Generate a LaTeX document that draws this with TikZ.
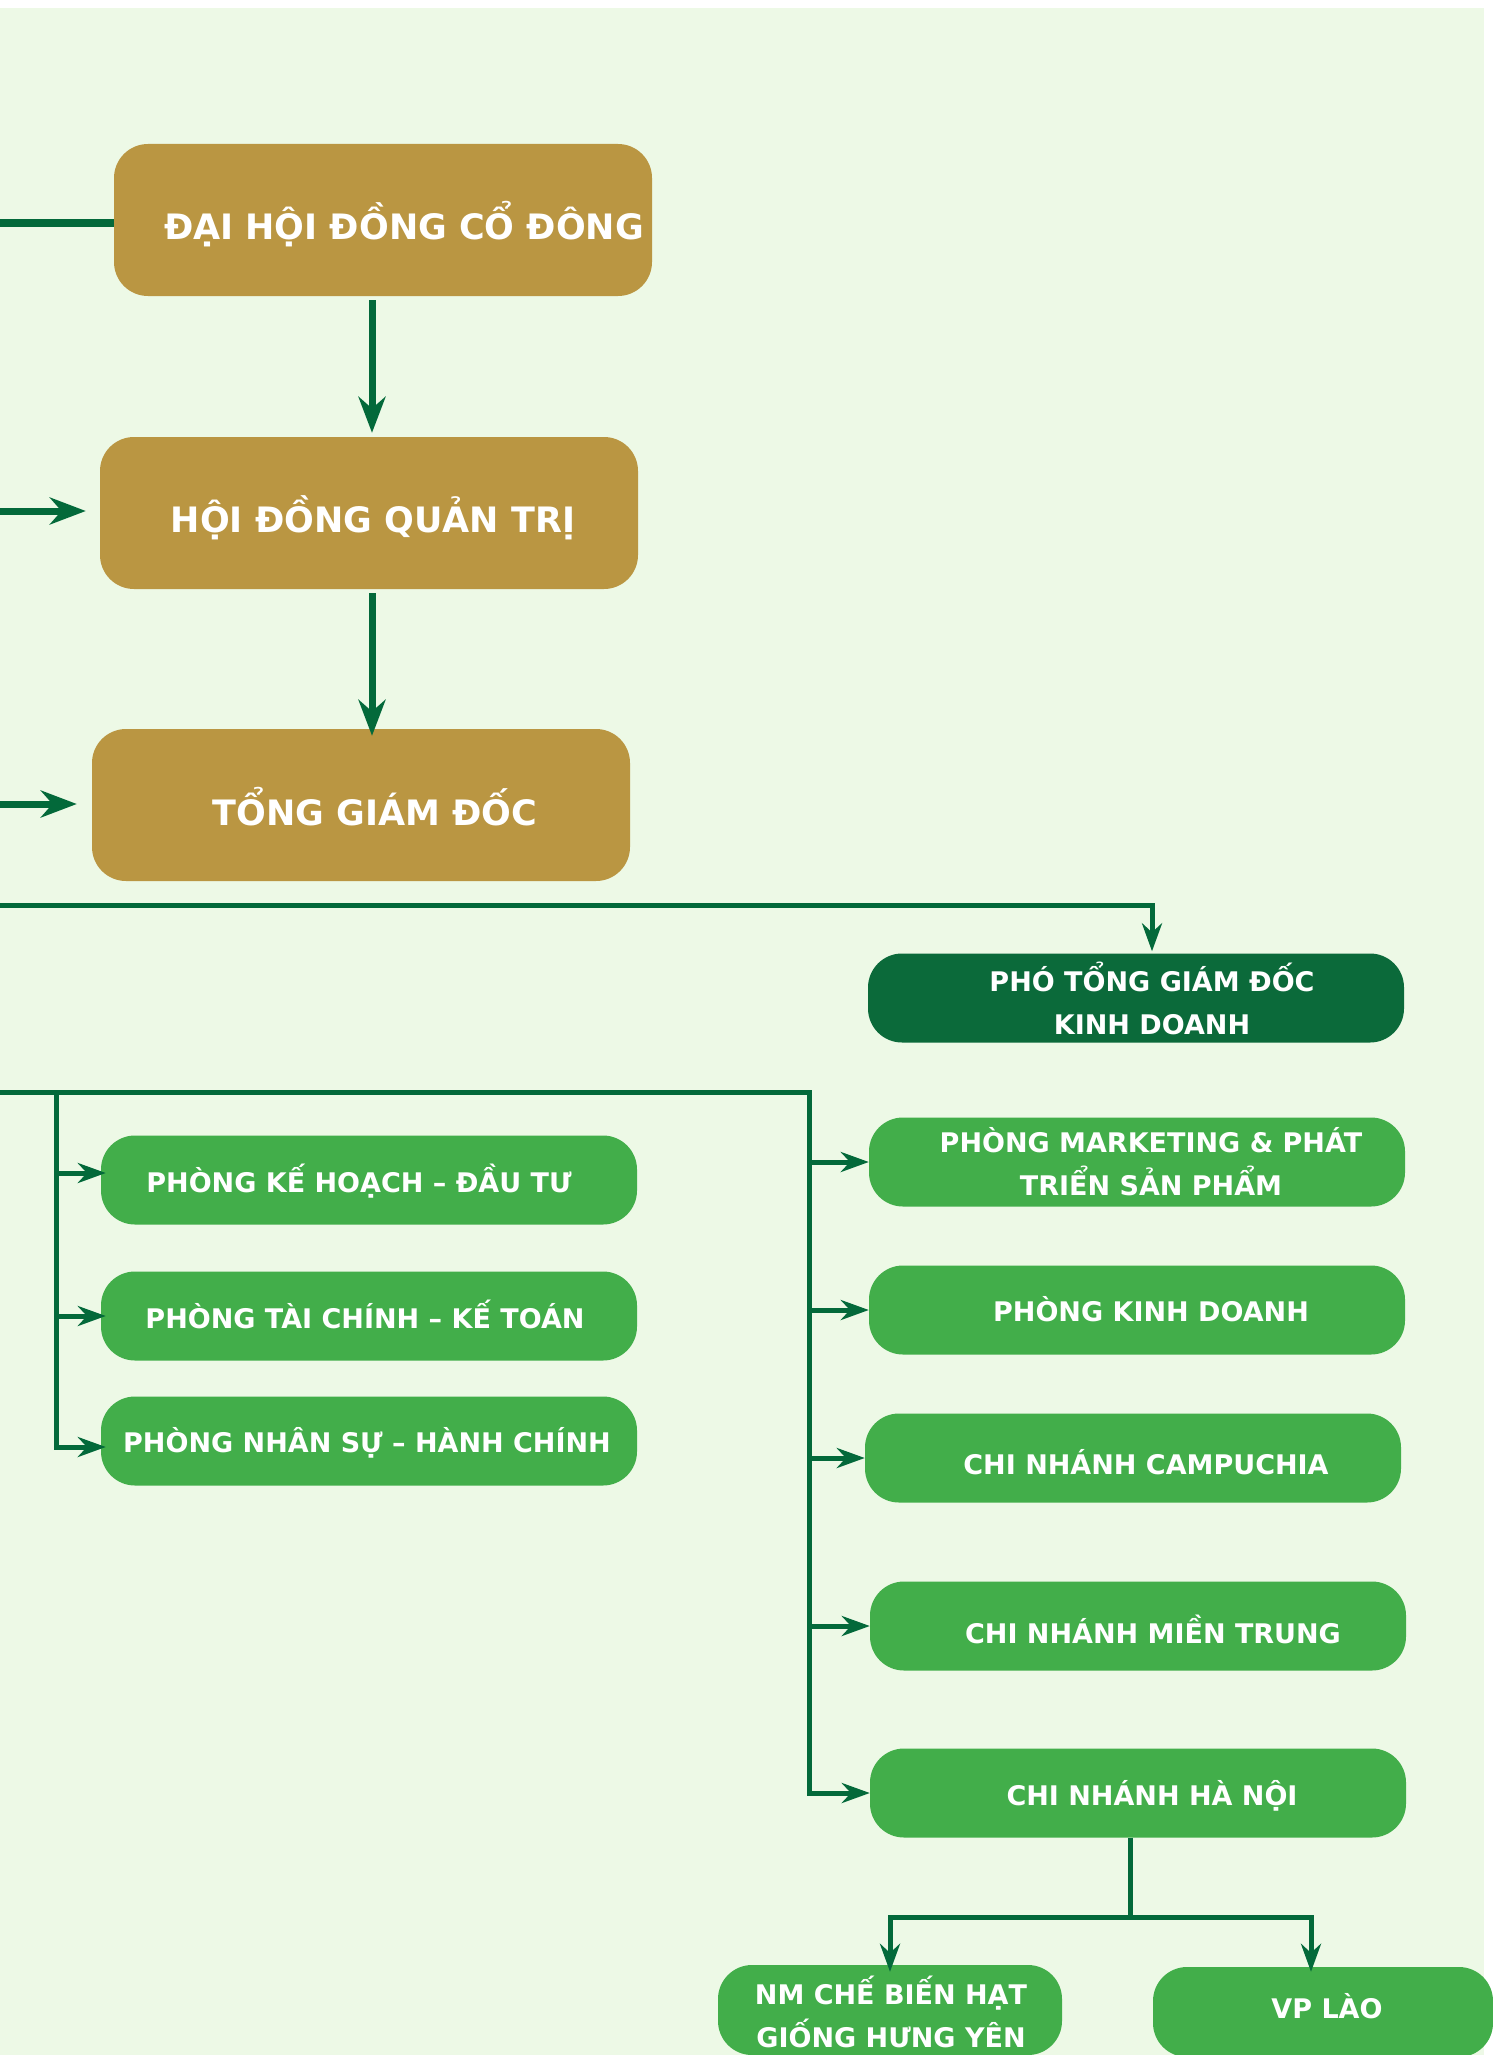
\documentclass[tikz,border=0pt]{standalone}
\usepackage{fontspec}
\setmainfont{DejaVu Sans}
\usetikzlibrary{arrows.meta}
\definecolor{nen}{HTML}{EDF9E6}
\definecolor{vang}{HTML}{BA9642}
\definecolor{xanh}{HTML}{42AE4A}
\definecolor{xanhdam}{HTML}{0B6A3A}
\definecolor{duong}{HTML}{03693A}
\begin{document}
\begin{tikzpicture}[x=1pt,y=-1pt,
 hop/.style={rectangle,rounded corners=34pt,minimum width=536pt,minimum height=89pt,inner sep=0pt,fill=xanh},
 hopvang/.style={hop,fill=vang,minimum width=538pt,minimum height=152pt},
 chu/.style={anchor=base,text=white,inner sep=0pt,align=center,font=\bfseries\fontsize{27}{43}\selectfont},
 chuvang/.style={chu,font=\bfseries\fontsize{35}{42}\selectfont},
 noi/.style={duong,line width=5pt,-{Stealth[length=28pt,width=20pt]}},
 noilon/.style={duong,line width=7pt,-{Stealth[length=36pt,width=27pt]}}]
 \useasboundingbox (0,0) rectangle (1493,2055);
 \fill[white] (0,0) rectangle (1493,2055);
 \fill[nen] (0,8) rectangle (1484,2055);
 % Khối lãnh đạo
 \node[hopvang] (dhdcd) at (383,220) {};
 \node[hopvang] (hdqt) at (369,513) {};
 \node[hopvang] (tgd) at (361,805) {};
 \node[hop,fill=xanhdam] (ptgd) at (1136,998) {};
 % Các phòng, chi nhánh
 \node[hop] (kh) at (369,1180) {};
 \node[hop] (tc) at (369,1316) {};
 \node[hop] (ns) at (369,1441) {};
 \node[hop] (mkt) at (1137,1162) {};
 \node[hop] (kd) at (1137,1310) {};
 \node[hop] (cpc) at (1133,1458) {};
 \node[hop] (mt) at (1138,1626) {};
 \node[hop] (hn) at (1138,1793) {};
 \node[hop,minimum width=344pt,minimum height=90pt] (nm) at (890,2010) {};
 \node[hop,minimum width=340pt,minimum height=90pt] (vp) at (1323,2012) {};
 % Chữ (dòng cuối đặt ở base)
 \node[chuvang] (dhdcd-t) at (404,239) {ĐẠI HỘI ĐỒNG CỔ ĐÔNG};
 \node[chuvang] (hdqt-t) at (373,532) {HỘI ĐỒNG QUẢN TRỊ};
 \node[chuvang] (tgd-t) at (375,825) {TỔNG GIÁM ĐỐC};
 \node[chu] (ptgd-t) at (1152,1034) {PHÓ TỔNG GIÁM ĐỐC\\KINH DOANH};
 \node[chu] (kh-t) at (359,1192) {PHÒNG KẾ HOẠCH – ĐẦU TƯ};
 \node[chu] (tc-t) at (365,1328) {PHÒNG TÀI CHÍNH – KẾ TOÁN};
 \node[chu] (ns-t) at (367,1452) {PHÒNG NHÂN SỰ – HÀNH CHÍNH};
 \node[chu] (mkt-t) at (1151,1195) {PHÒNG MARKETING \& PHÁT\\TRIỂN SẢN PHẨM};
 \node[chu] (kd-t) at (1151,1321) {PHÒNG KINH DOANH};
 \node[chu] (cpc-t) at (1146,1474) {CHI NHÁNH CAMPUCHIA};
 \node[chu] (mt-t) at (1153,1643) {CHI NHÁNH MIỀN TRUNG};
 \node[chu] (hn-t) at (1152,1805) {CHI NHÁNH HÀ NỘI};
 \node[chu] (nm-t) at (891,2047) {NM CHẾ BIẾN HẠT\\GIỐNG HƯNG YÊN};
 \node[chu] (vp-t) at (1327,2018) {VP LÀO};
 % Đường nối
 \coordinate (t1) at (0,223);
 \coordinate (t2) at (0,511);
 \coordinate (t3) at (0,804);
 \coordinate (t4) at (0,905);
 \coordinate (t5) at (0,1092);
 \coordinate (g1) at (372,0);
 \draw[duong,line width=8pt] (t1) -- (t1 -| dhdcd.west);
 \draw[noilon,shorten <=4pt,shorten >=4pt] (g1 |- dhdcd.south) -- (g1 |- hdqt.north);
 \draw[noilon,shorten >=14pt] (t2) -- (t2 -| hdqt.west);
 \draw[noilon,shorten <=4pt,shorten >=-7pt] (g1 |- hdqt.south) -- (g1 |- tgd.north);
 \draw[noilon,shorten >=15pt] (t3) -- (t3 -| tgd.west);
 \coordinate (g2) at (1152,905);
 \draw[noi,shorten >=2pt] (t4) -- (g2) -- (g2 |- ptgd.north);
 \coordinate (g3) at (809,1092);
 \draw[noi] (t5) -- (g3) |- (hn.west);
 \foreach \n in {mkt,kd,cpc,mt}
  \draw[noi] (g3 |- \n.west) -- (\n.west);
 \coordinate (g4) at (56,1092);
 \path ([yshift=7pt]kh.west) coordinate (kh-in) ([yshift=-6pt]ns.west) coordinate (ns-in);
 \draw[noi,shorten >=-5pt] (g4) |- (ns-in);
 \draw[noi,shorten >=-5pt] (g4 |- kh-in) -- (kh-in);
 \draw[noi,shorten >=-5pt] (g4 |- tc.west) -- (tc.west);
 \coordinate (g5) at (1130,1917);
 \path ([xshift=-12pt]vp.north) coordinate (vp-in);
 \draw[duong,line width=5pt] (g5 |- hn.south) -- (g5);
 \draw[noi,shorten >=-7pt] (g5) -| (nm.north);
 \draw[noi,shorten >=-5pt] (g5) -| (vp-in);
\end{tikzpicture}
\end{document}
